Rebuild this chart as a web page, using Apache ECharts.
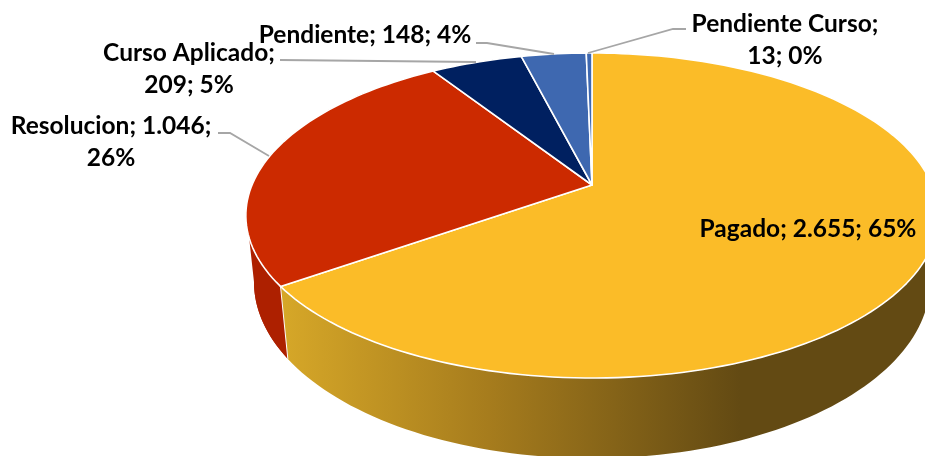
<!DOCTYPE html>
<html>
<head>
<meta charset="utf-8">
<style>html,body{margin:0;padding:0;background:#fff;overflow:hidden}#chart{width:925px;height:456px}</style>
<script src="https://cdn.jsdelivr.net/npm/echarts@6/dist/echarts.min.js"></script>
</head>
<body>
<div id="chart"></div>
<script>
// data
const categories = ['Pagado', 'Resolucion', 'Curso Aplicado', 'Pendiente', 'Pendiente Curso'];
const values = [2655, 1046, 209, 148, 13];
const percents = [65, 26, 5, 4, 0];
const colors = ['#FBBC28', '#CC2A00', '#002060', '#3E68B0', '#3E68B0'];
// label layout: line break position, centre of the label, leader path
const labelBreaks = ['none', 'beforePercent', 'afterName', 'none', 'afterName'];
const labelCentres = [[808, 229], [111, 142], [189, 69], [365, 35], [785, 40]];
const leaders = [
  null,
  [[218, 133], [230, 133], [269, 156]],
  [[280, 60], [476, 62]],
  [[476, 43], [487, 43], [554, 54]],
  [[686, 29], [673, 29], [588, 53]]
];
// perspective disc: top face and lower rim
const topFace = { x: 592, y: 185, b: 340, a: 156.8 };
const lowRim = { x: 592, y: 249, b: 332, a: 170 };
const tilt = -0.1877;
const silhouette = { top: 251.5, low: 259.2 };

const total = values.reduce((s, v) => s + v, 0);
const starts = [];
values.reduce((s, v, i) => { starts[i] = s; return s + v; }, 0);

function project(face, deg) {
  const t = deg * Math.PI / 180, u = Math.sin(t), v = -Math.cos(t), w = 1 + tilt * v;
  return [face.x + face.b * u / w, face.y + face.a * v / w];
}
function arc(face, d0, d1) {
  const n = Math.max(2, Math.ceil((d1 - d0) / 1.5)), pts = [];
  for (let i = 0; i <= n; i++) pts.push(project(face, d0 + (d1 - d0) * i / n));
  return pts;
}
function range(i) {
  return [starts[i] / total * 360, (starts[i] + values[i]) / total * 360];
}
const fmt = v => String(v).replace(/\B(?=(\d{3})+$)/g, '.');
function labelText(i) {
  const n = categories[i], v = fmt(values[i]), p = percents[i] + '%';
  if (labelBreaks[i] === 'afterName') return `${n};\n${v}; ${p}`;
  if (labelBreaks[i] === 'beforePercent') return `${n}; ${v};\n${p}`;
  return `${n}; ${v}; ${p}`;
}

const goldWall = new echarts.graphic.LinearGradient(283, 0, 740, 0, [
  { offset: 0, color: '#D6A728' },
  { offset: 0.45, color: '#A67C1D' },
  { offset: 1, color: '#634A13' }
], true);
const wallFills = [goldWall, '#AD2000', '#001845', '#2E4E85', '#2E4E85'];

const rows = categories.map((c, i) => ({ name: c, value: values[i] }));

const option = {
  animation: false,
  backgroundColor: '#fff',
  series: [
    {
      type: 'custom', coordinateSystem: 'none', z: 1, data: rows, silent: true,
      renderItem(p) {
        const [a, b] = range(p.dataIndex);
        const pts = arc(topFace, a, b).concat(arc(lowRim, a, b).reverse());
        const kids = [{ type: 'polygon', shape: { points: pts }, style: { fill: wallFills[p.dataIndex] } }];
        if (a < silhouette.top && b > silhouette.low) {
          kids.push({
            type: 'polygon',
            shape: { points: arc(topFace, a, silhouette.top).concat(arc(lowRim, a, silhouette.low).reverse()) },
            style: { fill: wallFills[p.dataIndex] }
          });
        }
        kids.push({
          type: 'polyline', shape: { points: [project(topFace, a), project(lowRim, a)] },
          style: { stroke: '#fff', lineWidth: 1, fill: 'none' }
        });
        return { type: 'group', children: kids };
      }
    },
    {
      type: 'custom', coordinateSystem: 'none', z: 2, data: rows, silent: true,
      renderItem(p) {
        const [a, b] = range(p.dataIndex);
        return {
          type: 'polygon',
          shape: { points: [[topFace.x, topFace.y]].concat(arc(topFace, a, b)) },
          style: { fill: colors[p.dataIndex], stroke: '#fff', lineWidth: 1.6, lineJoin: 'round' }
        };
      }
    },
    {
      type: 'custom', coordinateSystem: 'none', z: 3, data: rows, silent: true,
      renderItem(p) {
        const i = p.dataIndex, kids = [];
        if (leaders[i]) kids.push({
          type: 'polyline', shape: { points: leaders[i] },
          style: { stroke: '#A6A6A6', lineWidth: 1.8, fill: 'none' }
        });
        kids.push({
          type: 'text',
          x: labelCentres[i][0], y: labelCentres[i][1],
          style: {
            text: labelText(i), fill: '#000', align: 'center', verticalAlign: 'middle',
            font: 'bold 24.5px Lato', lineHeight: 32
          }
        });
        return { type: 'group', children: kids };
      }
    }
  ]
};
echarts.init(document.getElementById('chart')).setOption(option);
</script>
</body>
</html>
